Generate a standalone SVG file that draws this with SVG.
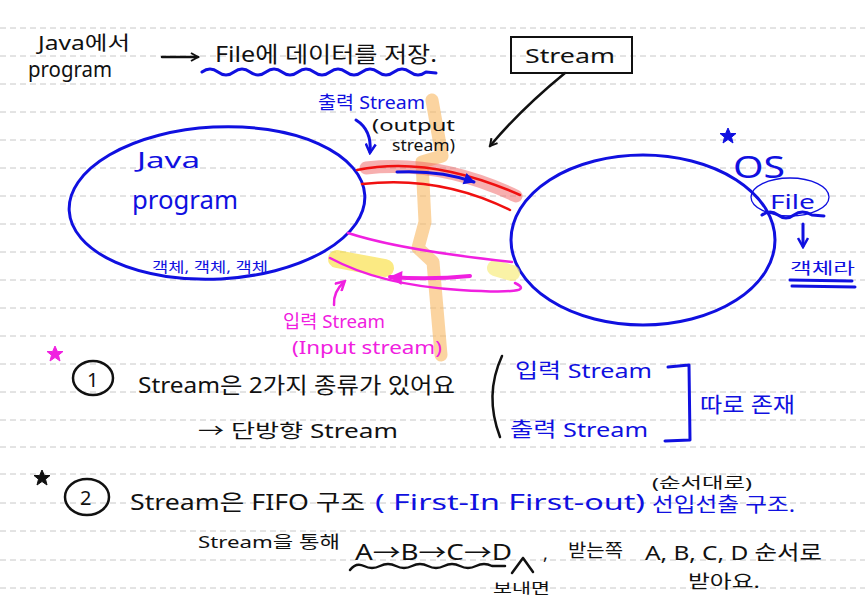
<svg xmlns="http://www.w3.org/2000/svg" width="865" height="600" viewBox="0 0 865 600">
<style>
.rule{stroke:#c8c8c8;stroke-width:1;stroke-dasharray:6 4}
.t{font-family:"Noto Sans","Noto Sans CJK KR",sans-serif}
.k{fill:#111}
.b{fill:#1010e0}
.m{fill:#f020e0}
.sk{fill:none;stroke:#111;stroke-width:2.5;stroke-linecap:round;stroke-linejoin:round}
.sb{fill:none;stroke:#1010e0;stroke-width:3;stroke-linecap:round;stroke-linejoin:round}
.sm{fill:none;stroke:#f020e0;stroke-width:2.5;stroke-linecap:round;stroke-linejoin:round}
.sr{fill:none;stroke:#f01010;stroke-width:2.5;stroke-linecap:round}
</style>
<defs>
<marker id="ak" markerWidth="10" markerHeight="10" refX="8" refY="5" orient="auto" markerUnits="userSpaceOnUse"><path d="M1,1 L8,5 L1,9" fill="none" stroke="#111" stroke-width="2"/></marker>
<marker id="ab" markerWidth="14" markerHeight="14" refX="11" refY="7" orient="auto" markerUnits="userSpaceOnUse"><path d="M1,1 L12,7 L1,13 Z" fill="#1010e0"/></marker>
<marker id="abo" markerWidth="12" markerHeight="12" refX="9" refY="6" orient="auto" markerUnits="userSpaceOnUse"><path d="M1,1 L10,6 L1,11" fill="none" stroke="#1010e0" stroke-width="2.5"/></marker>
<marker id="am" markerWidth="16" markerHeight="16" refX="13" refY="8" orient="auto" markerUnits="userSpaceOnUse"><path d="M1,1 L14,8 L1,15 Z" fill="#f020e0"/></marker>
<marker id="amo" markerWidth="12" markerHeight="12" refX="9" refY="6" orient="auto" markerUnits="userSpaceOnUse"><path d="M1,1 L10,6 L1,11" fill="none" stroke="#f020e0" stroke-width="2.5"/></marker>
<path id="star" d="M0,-8 L2.4,-2.5 L8,-2.5 L3.5,1.2 L5,7 L0,3.5 L-5,7 L-3.5,1.2 L-8,-2.5 L-2.4,-2.5 Z"/>
</defs>
<rect width="865" height="600" fill="#fff"/>
<g id="rules">
<line class="rule" x1="0" y1="28" x2="865" y2="28"/>
<line class="rule" x1="0" y1="56" x2="865" y2="56"/>
<line class="rule" x1="0" y1="84" x2="865" y2="84"/>
<line class="rule" x1="0" y1="112" x2="865" y2="112"/>
<line class="rule" x1="0" y1="140" x2="865" y2="140"/>
<line class="rule" x1="0" y1="168" x2="865" y2="168"/>
<line class="rule" x1="0" y1="196" x2="865" y2="196"/>
<line class="rule" x1="0" y1="224" x2="865" y2="224"/>
<line class="rule" x1="0" y1="252" x2="865" y2="252"/>
<line class="rule" x1="0" y1="280" x2="865" y2="280"/>
<line class="rule" x1="0" y1="308" x2="865" y2="308"/>
<line class="rule" x1="0" y1="336" x2="865" y2="336"/>
<line class="rule" x1="0" y1="364" x2="865" y2="364"/>
<line class="rule" x1="0" y1="392" x2="865" y2="392"/>
<line class="rule" x1="0" y1="420" x2="865" y2="420"/>
<line class="rule" x1="0" y1="447" x2="865" y2="447"/>
<line class="rule" x1="0" y1="474" x2="865" y2="474"/>
<line class="rule" x1="0" y1="503" x2="865" y2="503"/>
<line class="rule" x1="0" y1="531" x2="865" y2="531"/>
<line class="rule" x1="0" y1="560" x2="865" y2="560"/>
<line class="rule" x1="0" y1="588" x2="865" y2="588"/>
</g>

<g id="orange-bolt">
<path d="M432,100 L442,156 L422,162 L425,222 L418,248 L433,262 L441,355" fill="none" stroke="#f8b860" stroke-opacity="0.6" stroke-width="13" stroke-linecap="round" stroke-linejoin="round"/>
</g>

<g id="java-program">
<ellipse cx="217" cy="203" rx="148" ry="76" transform="rotate(-3 217 203)" class="sb"/>
<text class="t b" x="137" y="168" font-size="22" textLength="63" lengthAdjust="spacingAndGlyphs">Java</text>
<text class="t b" x="132" y="209" font-size="25" textLength="106" lengthAdjust="spacingAndGlyphs">program</text>
<text class="t b" x="152" y="272" font-size="14" textLength="116" lengthAdjust="spacingAndGlyphs">객체, 객체, 객체</text>
</g>

<g id="os-file">
<ellipse cx="643" cy="240" rx="132" ry="85" class="sb"/>
</g>

<g id="output-stream">
<path d="M366,168 Q440,160 516,196" fill="none" stroke="#f06060" stroke-opacity="0.5" stroke-width="13" stroke-linecap="round"/>
<path d="M357,170 Q430,155 520,195" class="sr"/>
<path d="M362,184 Q440,175 510,210" class="sr"/>
<path d="M397,172 Q440,170 474,182" class="sb" marker-end="url(#ab)"/>
</g>

<g id="input-stream">
<path d="M337,259 Q362,264 385,268" fill="none" stroke="#f8dc30" stroke-opacity="0.6" stroke-width="18" stroke-linecap="round"/>
<path d="M495,268 Q505,271 512,273" fill="none" stroke="#f8ec80" stroke-opacity="0.7" stroke-width="16" stroke-linecap="round"/>
<path d="M348,233 Q400,250 512,262" class="sm"/>
<path d="M330,258 Q380,285 460,290 T515,283" class="sm"/>
<path d="M470,276 Q430,280 390,277" fill="none" stroke="#f020e0" stroke-width="4" stroke-linecap="round" marker-end="url(#am)"/>
</g>

<g id="stream-box">
<rect x="511" y="37" width="121" height="36" fill="none" stroke="#111" stroke-width="2"/>
<text class="t k" x="525" y="63" font-size="20" textLength="90" lengthAdjust="spacingAndGlyphs">Stream</text>
</g>

<g id="labels">
<text class="t k" x="38" y="50" font-size="19" textLength="92" lengthAdjust="spacingAndGlyphs">Java에서</text>
<text class="t k" x="28" y="77" font-size="21" textLength="84" lengthAdjust="spacingAndGlyphs">program</text>
<text class="t k" x="215" y="62" font-size="22" textLength="222" lengthAdjust="spacingAndGlyphs">File에 데이터를 저장.</text>
<path d="M202,72 Q210,66 218,72 T234,72 T250,72 T266,72 T282,72 T298,72 T314,72 T330,72 T346,72 T362,72 T378,72 T394,72 T410,72 T426,72 L436,73" class="sb" stroke-width="2.5"/>
<text class="t b" x="318" y="109" font-size="18" textLength="107" lengthAdjust="spacingAndGlyphs">출력 Stream</text>
<text class="t k" x="372" y="131" font-size="16" textLength="83" lengthAdjust="spacingAndGlyphs">(output</text>
<text class="t k" x="392" y="151" font-size="16" textLength="63" lengthAdjust="spacingAndGlyphs">stream)</text>
<text class="t m" x="283" y="328" font-size="18" textLength="102" lengthAdjust="spacingAndGlyphs">입력 Stream</text>
<text class="t m" x="292" y="354" font-size="18" textLength="150" lengthAdjust="spacingAndGlyphs">(Input stream)</text>
<use href="#star" x="728" y="136" fill="#1010e0" stroke="#1010e0" stroke-width="1"/>
<text class="t b" x="733" y="178" font-size="30" textLength="52" lengthAdjust="spacingAndGlyphs">OS</text>
<ellipse cx="790" cy="197" rx="39" ry="19" fill="none" stroke="#1010e0" stroke-width="1.3"/>
<text class="t b" x="770" y="209" font-size="19" textLength="45" lengthAdjust="spacingAndGlyphs">File</text>
<path d="M762,215 Q770,209 778,215 T794,215 T812,215 L824,216" class="sb" stroke-width="2"/>
<text class="t b" x="790" y="274" font-size="16" textLength="65" lengthAdjust="spacingAndGlyphs">객체라</text>
<line x1="790" y1="280" x2="852" y2="281" class="sb" stroke-width="2.5"/>
<line x1="792" y1="286" x2="855" y2="287" class="sb" stroke-width="2.5"/>
</g>

<g id="connectors">
<path d="M565,73 Q520,110 490,146" class="sk" marker-end="url(#ak)"/>
<path d="M356,120 Q372,130 370,152" class="sb" stroke-width="2" marker-end="url(#abo)"/>
<path d="M334,305 Q333,292 344,282" class="sm" marker-end="url(#amo)"/>
<path d="M803,224 L803,246" class="sb" stroke-width="2" marker-end="url(#abo)"/>
<path d="M162,57 L198,57" class="sk" marker-end="url(#ak)"/>
</g>

<g id="note1">
<use href="#star" x="55" y="354" fill="#f020e0" stroke="#f020e0" stroke-width="1"/>
<ellipse cx="93" cy="378" rx="20" ry="17" class="sk"/>
<text class="t k" x="87" y="387" font-size="20">1</text>
<text class="t k" x="138" y="393" font-size="22" textLength="317" lengthAdjust="spacingAndGlyphs">Stream은 2가지 종류가 있어요</text>
<text class="t k" x="198" y="438" font-size="19" textLength="200" lengthAdjust="spacingAndGlyphs">→ 단방향 Stream</text>
<path d="M502,356 Q484,395 500,437" class="sk"/>
<text class="t b" x="515" y="378" font-size="20" textLength="137" lengthAdjust="spacingAndGlyphs">입력 Stream</text>
<text class="t b" x="510" y="437" font-size="20" textLength="138" lengthAdjust="spacingAndGlyphs">출력 Stream</text>
<path d="M668,367 L689,365 L690,440 L665,441" class="sb" stroke-width="2.5"/>
<text class="t b" x="700" y="412" font-size="21" textLength="95" lengthAdjust="spacingAndGlyphs">따로 존재</text>
</g>

<g id="note2">
<use href="#star" x="42" y="478" fill="#111" stroke="#111" stroke-width="1"/>
<ellipse cx="87" cy="497" rx="22" ry="18" class="sk"/>
<text class="t k" x="80" y="505" font-size="20">2</text>
<text class="t k" x="130" y="510" font-size="22" textLength="235" lengthAdjust="spacingAndGlyphs">Stream은 FIFO 구조</text>
<text class="t b" x="375" y="510" font-size="22" textLength="270" lengthAdjust="spacingAndGlyphs">( First-In First-out)</text>
<text class="t b" x="652" y="512" font-size="20" textLength="143" lengthAdjust="spacingAndGlyphs">선입선출 구조.</text>
<text class="t k" x="652" y="488" font-size="15" textLength="100" lengthAdjust="spacingAndGlyphs">(순서대로)</text>
<text class="t k" x="198" y="548" font-size="17" textLength="142" lengthAdjust="spacingAndGlyphs">Stream을 통해</text>
<text class="t k" x="355" y="560" font-size="22" textLength="157" lengthAdjust="spacingAndGlyphs">A→B→C→D</text>
<path d="M350,570 Q356,562 364,566 T380,566 T396,566 T412,566 T428,566 T444,566 T460,566 T476,566 T492,566 L505,566" class="sk" stroke-width="2"/>
<path d="M523,558 L512,573 M523,558 L533,572" class="sk" stroke-width="2"/>
<text class="t k" x="543" y="560" font-size="18">,</text>
<text class="t k" x="568" y="557" font-size="18" textLength="55" lengthAdjust="spacingAndGlyphs">받는쪽</text>
<text class="t k" x="645" y="560" font-size="20" textLength="177" lengthAdjust="spacingAndGlyphs">A, B, C, D 순서로</text>
<text class="t k" x="688" y="588" font-size="18" textLength="72" lengthAdjust="spacingAndGlyphs">받아요.</text>
<text class="t k" x="493" y="593" font-size="14" textLength="57" lengthAdjust="spacingAndGlyphs">보내면</text>
</g>
</svg>
